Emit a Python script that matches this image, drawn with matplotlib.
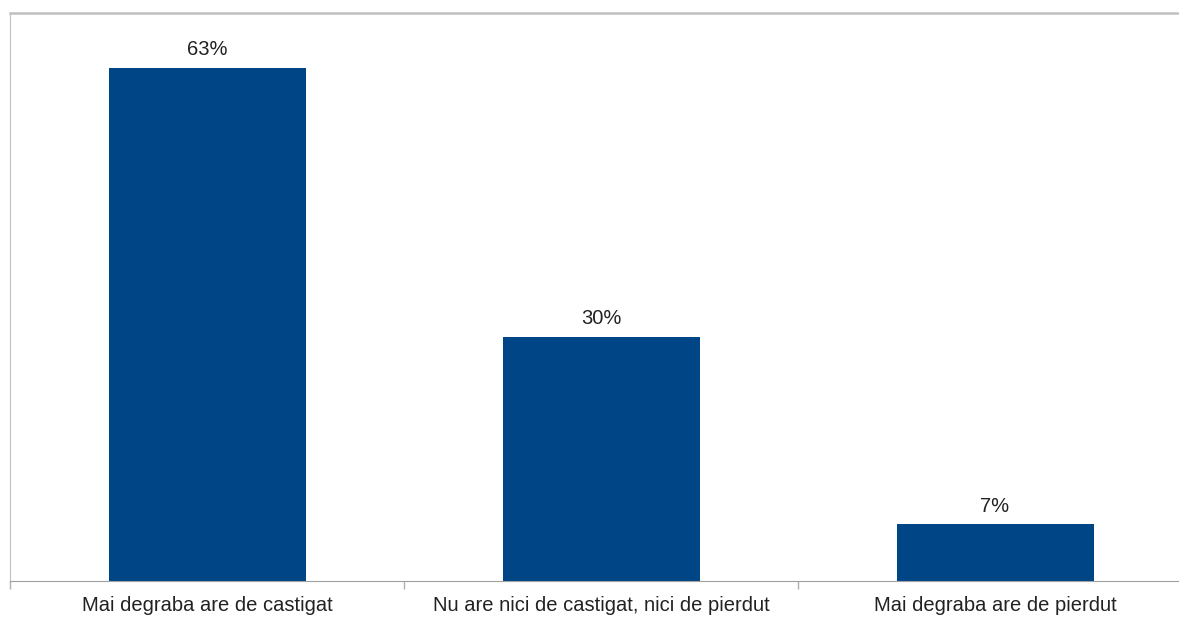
import matplotlib.pyplot as plt
import numpy as np

# survey answers and their shares (%)
categories = ["Mai degraba are de castigat",
              "Nu are nici de castigat, nici de pierdut",
              "Mai degraba are de pierdut"]
values = [63, 30, 7]
value_labels = ["63%", "30%", "7%"]

plt.rcParams['font.family'] = ['Liberation Sans', 'DejaVu Sans']

fig = plt.figure(figsize=(11.79, 6.18), dpi=100)
# axes runs a bit past the right edge of the picture, like the cropped original
ax = fig.add_axes([10 / 1179, (618 - 581) / 618, 1182 / 1179, 568 / 618])

x = np.arange(len(categories))
bars = ax.bar(x, values, width=0.5, color='#004586')

for b, lab in zip(bars, value_labels):
    ax.annotate(lab, (b.get_x() + b.get_width() / 2, b.get_height()),
                textcoords="offset points", xytext=(0, 6), ha="center", va="bottom",
                fontsize=14.5, color='#222222')

ax.set_xlim(-0.5, 2.5)
ax.set_ylim(0, 69.7)
ax.set_yticks([])
ax.set_xticks(x)
ax.set_xticklabels(categories, fontsize=14.5, color='#222222')
ax.tick_params(axis='x', which='major', length=0, pad=11)
ax.set_xticks([-0.5, 0.5, 1.5, 2.5], minor=True)
ax.tick_params(axis='x', which='minor', length=6, color='#b0b0b0', width=1)

for side in ['left', 'top', 'right']:
    ax.spines[side].set_color('#c0c0c0')
ax.spines['top'].set_linewidth(1.8)
ax.spines['bottom'].set_color('#a0a0a0')

fig.savefig("out.png", dpi=100)
